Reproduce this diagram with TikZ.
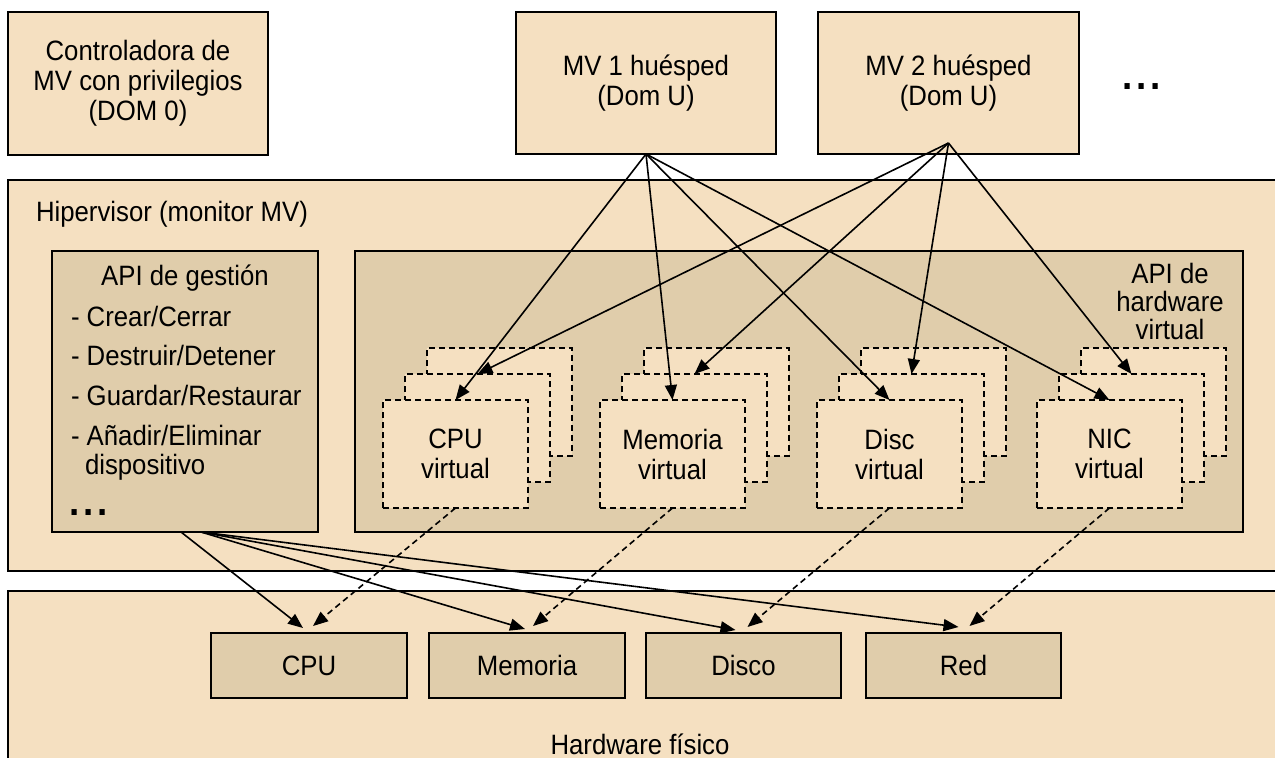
\documentclass[tikz,border=0pt]{standalone}
\usepackage{fontspec}
\setmainfont{Liberation Sans}[FakeStretch=0.92]
\usetikzlibrary{arrows.meta,calc}
\definecolor{lite}{RGB}{245,224,193}
\definecolor{dark}{RGB}{224,205,171}
\newcommand{\mydots}{.\hspace{4pt}.\hspace{4pt}.}
\begin{document}
\begin{tikzpicture}[x=1pt,y=-1pt,
  box/.style={draw=black, line width=2pt, fill=lite, inner sep=0pt, outer sep=0pt, align=center, font=\fontsize{28}{30}\selectfont},
  dbox/.style={box, fill=dark},
  vbox/.style={draw=black, line width=1.7pt, dash pattern=on 6pt off 4pt, fill=lite, minimum width=145pt, minimum height=108pt, inner sep=0pt, outer sep=0pt, align=center, font=\fontsize{28}{30}\selectfont},
  arr/.style={-{Triangle[length=15pt,width=12pt]}, line width=1.6pt},
  darr/.style={arr, dash pattern=on 6pt off 4pt},
  lbl/.style={inner sep=0pt, outer sep=0pt, font=\fontsize{28}{30}\selectfont},
  dotlbl/.style={inner sep=0pt, outer sep=0pt, font=\fontsize{40}{40}\bfseries}
]
\useasboundingbox (0,0) rectangle (1275,758);
\clip (0,0) rectangle (1275,758);
\fill[white] (0,0) rectangle (1275,758);

% top boxes
\node[box, minimum width=260pt, minimum height=143pt] (dom0) at (138,83.5) {Controladora de\\MV con privilegios\\(DOM 0)};
\node[box, minimum width=260pt, minimum height=142pt] (mv1) at (646,83) {MV 1 huésped\\(Dom U)};
\node[box, minimum width=261pt, minimum height=142pt] (mv2) at (948.5,83) {MV 2 huésped\\(Dom U)};
\node[dotlbl, anchor=base west] (dots1) at (1122,89) {\mydots};

% hypervisor
\node[box, minimum width=1292pt, minimum height=391pt] (hyp) at (654,375.5) {};
\node[lbl, anchor=base west] (hyplbl) at (36,221) {Hipervisor (monitor MV)};

% management API
\node[dbox, minimum width=266pt, minimum height=281pt] (gest) at (185,391.5) {};
\node[lbl, anchor=base] (gt) at (185,285) {API de gestión};
\node[lbl, anchor=base west] (g1) at (71,326) {- Crear/Cerrar};
\node[lbl, anchor=base west] (g2) at (71,365) {- Destruir/Detener};
\node[lbl, anchor=base west] (g3) at (71,405) {- Guardar/Restaurar};
\node[lbl, anchor=base west] (g4) at (71,445) {- Añadir/Eliminar};
\node[lbl, anchor=base west] (g5) at (85,474) {dispositivo};
\node[dotlbl, anchor=base west] (g6) at (69,515) {\mydots};

% virtual hardware API
\node[dbox, minimum width=888pt, minimum height=281pt] (hv) at (799,391.5) {};
\node[lbl, align=center, font=\fontsize{28}{28}\selectfont] (hvt) at (1170,301) {API de\\hardware\\virtual};

% virtual stacks
\foreach \g/\n/\t in {383/cpu/CPU, 600/mem/Memoria, 817/disc/Disc, 1037/nic/NIC}{
  \node[vbox] (\n B) at (\g+116.5,402) {};
  \node[vbox] (\n M) at (\g+94.5,428) {};
  \node[vbox] (\n F) at (\g+72.5,454) {\t\\virtual};
}

% hardware
\node[box, minimum width=1292pt, minimum height=209pt] (hw) at (654,695.5) {};
\node[lbl] (hwt) at (640,744) {Hardware físico};
\node[dbox, minimum width=196pt, minimum height=65pt] (pcpu) at (309,665.5) {CPU};
\node[dbox, minimum width=196pt, minimum height=65pt] (pmem) at (527,665.5) {Memoria};
\node[dbox, minimum width=195pt, minimum height=65pt] (pdisc) at (743.5,665.5) {Disco};
\node[dbox, minimum width=195pt, minimum height=65pt] (pred) at (963.5,665.5) {Red};

% arrows from guests
\coordinate (mv1o) at (mv1.south);
\coordinate (mv2o) at ([yshift=11pt]mv2.south);
\foreach \n in {cpu,mem,disc,nic}{
  \draw[arr] (mv1o) -- (\n F.north);
  \draw[arr] (mv2o) -- (\n M.north);
}

% arrows from management API
\coordinate (go1) at ([xshift=-4pt]gest.south);
\coordinate (go2) at ([xshift=16pt]gest.south);
\draw[arr] (go1) -- ([xshift=-6pt,yshift=5pt]pcpu.north);
\draw[arr] (go2) -- ([xshift=-2pt,yshift=4pt]pmem.north);
\draw[arr] (go2) -- ([xshift=-8pt,yshift=3pt]pdisc.north);
\draw[arr] (go2) -- ([xshift=-5pt,yshift=6pt]pred.north);

% dashed arrows from virtual devices
\draw[darr] (cpuF.south) -- ([xshift=4pt,yshift=7pt]pcpu.north);
\draw[darr] (memF.south) -- ([xshift=6pt,yshift=7pt]pmem.north);
\draw[darr] (discF.south) -- ([xshift=4pt,yshift=6pt]pdisc.north);
\draw[darr] (nicF.south) -- ([xshift=6pt,yshift=7pt]pred.north);
\end{tikzpicture}
\end{document}
